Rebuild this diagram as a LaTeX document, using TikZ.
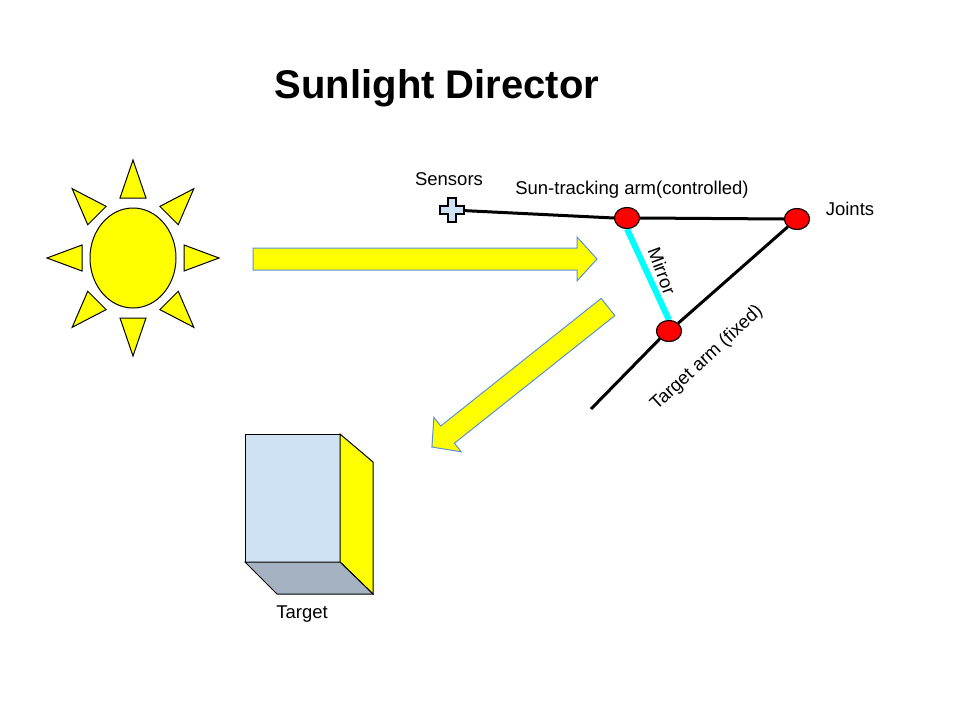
\documentclass[tikz,border=0pt]{standalone}
\usepackage{fontspec}
\setmainfont{Liberation Sans}
\usetikzlibrary{calc,shapes.geometric}
\definecolor{sunyellow}{HTML}{FFFF00}
\definecolor{beamedge}{HTML}{5B8FD9}
\definecolor{faceblue}{HTML}{CFE2F3}
\definecolor{facegray}{HTML}{A4B2C2}
\definecolor{mirrorcyan}{HTML}{00FFFF}
\definecolor{jointred}{HTML}{FF0000}
\tikzset{
  ray/.style={draw=black, fill=sunyellow, line width=1pt},
  beam/.pic={
    \filldraw[draw=beamedge, fill=sunyellow, line width=1pt]
      (0,-11) -- (\beamlen-20,-11) -- (\beamlen-20,-22) -- (\beamlen,0)
      -- (\beamlen-20,22) -- (\beamlen-20,11) -- (0,11) -- cycle;
  },
  joint/.style={ellipse, draw=black, fill=jointred, line width=1pt,
    minimum width=25pt, minimum height=21pt, inner sep=0pt},
  lbl/.style={font=\fontsize{18.5}{21}\selectfont, inner sep=1pt},
  arm/.style={line width=3pt, black},
}
\newcommand{\beamlen}{100}
\begin{document}
\begin{tikzpicture}[x=1pt,y=1pt]
\useasboundingbox (0,0) rectangle (960,-720);
% title
\node[font=\fontsize{40}{44}\bfseries\selectfont] (title) at (437,-88) {Sunlight Director};
% sun
\foreach \a in {0,45,...,315}{
  \filldraw[ray] ($(133,-258)+(\a:86 and 98)$)
    -- ($(133,-258)+(\a:51 and 60)+(\a+90:13)$)
    -- ($(133,-258)+(\a:51 and 60)+(\a-90:13)$) -- cycle;
}
\filldraw[ray] (133,-258) ellipse (43 and 50);
% beams
\renewcommand{\beamlen}{344}
\path (253,-259) pic {beam};
\renewcommand{\beamlen}{225}
\path (608,-307) pic[rotate=218.5] {beam};
% arms
\node[joint] (j1) at (627,-218) {};
\node[joint] (j2) at (797,-219) {};
\node[joint] (j3) at (669,-331) {};
\coordinate (sens) at (452,-210);
\coordinate (armend) at (591,-409);
\draw[arm] (sens) -- (j1.west);
\draw[arm] (j1.east) -- (j2.west);
\draw[arm] (j2.south west) -- (j3.north east);
\draw[arm] (j3.south west) -- (armend);
\draw[line width=6pt, mirrorcyan] (j1.south) -- (j3.north);
\node[joint] at (j1) {};
\node[joint] at (j2) {};
\node[joint] at (j3) {};
% sensor
\filldraw[draw=black, fill=faceblue, line width=1.2pt, shift={(452,-210)}]
  (-4,12) -- (4,12) -- (4,4) -- (12,4) -- (12,-4) -- (4,-4) -- (4,-12)
  -- (-4,-12) -- (-4,-4) -- (-12,-4) -- (-12,4) -- (-4,4) -- cycle;
% labels
\node[lbl] (sensors) at (449,-179) {Sensors};
\node[lbl] (tracklbl) at (632,-190) {Sun-tracking arm(controlled)};
\node[lbl] (jointlbl) at (850,-209) {Joints};
\node[lbl, rotate=-69.6] (mirrorlbl) at (662,-271) {Mirror};
\node[lbl, rotate=42.7] (fixedlbl) at (707,-358) {Target arm (fixed)};
% target
\filldraw[draw=black, fill=faceblue, line width=1pt] (245,-434) rectangle (340,-562);
\filldraw[draw=black, fill=sunyellow, line width=1pt]
  (340,-434) -- (373,-462) -- (373,-594) -- (340,-562) -- cycle;
\filldraw[draw=black, fill=facegray, line width=1pt]
  (245,-562) -- (277,-594) -- (373,-594) -- (340,-562) -- cycle;
\node[lbl] (targetlbl) at (302,-614) {Target};
\end{tikzpicture}
\end{document}
